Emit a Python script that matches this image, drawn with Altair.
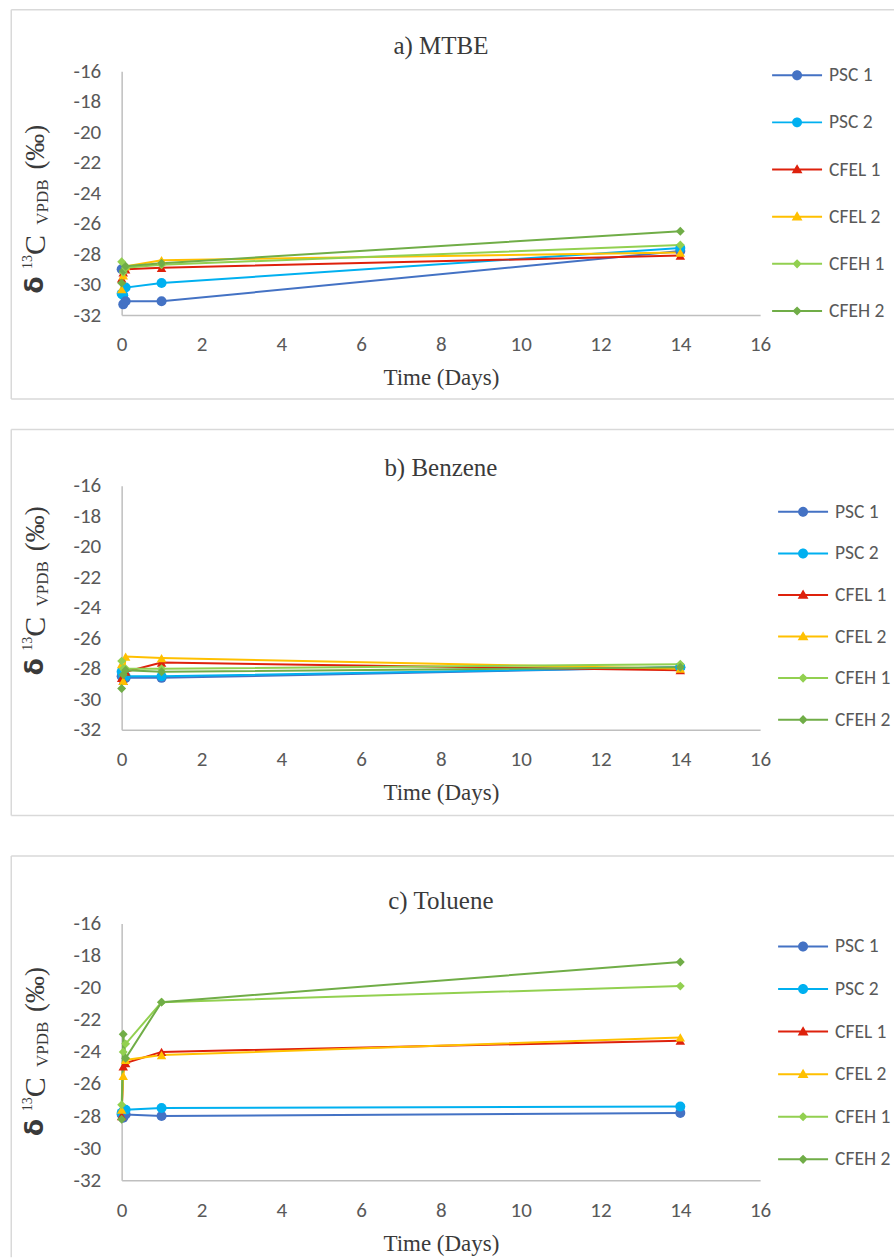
import altair as alt
import pandas as pd

# ---- data -----------------------------------------------------------------
SERIES = ["PSC 1", "PSC 2", "CFEL 1", "CFEL 2", "CFEH 1", "CFEH 2"]
COLORS = ["#4472C4", "#00B0F0", "#DE210C", "#FFC000", "#92D050", "#70AD47"]
DAYS = [0, 0.04, 0.1, 1, 14]

MTBE = {
    "PSC 1": [-29.0, -31.3, -31.1, -31.1, -27.8],
    "PSC 2": [-30.6, -30.7, -30.2, -29.9, -27.6],
    "CFEL 1": [-29.6, -29.2, -29.0, -28.9, -28.1],
    "CFEL 2": [-30.3, -29.4, -28.8, -28.4, -27.9],
    "CFEH 1": [-28.5, -29.2, -28.9, -28.7, -27.4],
    "CFEH 2": [-29.9, -29.1, -28.8, -28.6, -26.5],
}
BENZENE = {
    "PSC 1": [-28.5, -28.7, -28.6, -28.6, -27.9],
    "PSC 2": [-28.2, -28.6, -28.5, -28.5, -27.9],
    "CFEL 1": [-28.6, -28.8, -28.2, -27.6, -28.1],
    "CFEL 2": [-27.7, -28.8, -27.2, -27.3, -28.0],
    "CFEH 1": [-27.5, -28.0, -28.0, -28.0, -27.7],
    "CFEH 2": [-29.3, -28.4, -28.1, -28.2, -27.9],
}
TOLUENE = {
    "PSC 1": [-27.9, -28.1, -27.9, -28.0, -27.8],
    "PSC 2": [-27.8, -27.7, -27.6, -27.5, -27.4],
    "CFEL 1": [-28.0, -24.9, -24.7, -24.0, -23.3],
    "CFEL 2": [-27.6, -25.5, -24.5, -24.2, -23.1],
    "CFEH 1": [-27.3, -24.0, -23.5, -20.9, -19.9],
    "CFEH 2": [-28.2, -22.9, -24.4, -20.9, -18.4],
}

X_TICKS = [0, 2, 4, 6, 8, 10, 12, 14, 16]
Y_TICKS = [-16, -18, -20, -22, -24, -26, -28, -30, -32]

# ---- styling ----------------------------------------------------------------
SANS = "Carlito, Lato, sans-serif"
SERIF = "Liberation Serif, serif"
TEXT_GREY = "#595959"
DARK = "#3A3A3A"
FRAME = "#D9D9D9"
PLOT_W = 639

# legend glyphs: a short line with the series marker on it (units of 20 px)
LINE = "M-1.25,-0.05H1.25V0.05H-1.25Z"
CIRCLE = "M-0.25,0A0.25,0.25 0 1,1 0.25,0A0.25,0.25 0 1,1 -0.25,0Z"
TRIANGLE = "M0,-0.27L0.27,0.19L-0.27,0.19Z"
DIAMOND = "M0,-0.23L0.23,0L0,0.23L-0.23,0Z"
LEGEND_SHAPES = [LINE + CIRCLE, LINE + CIRCLE, LINE + TRIANGLE,
                 LINE + TRIANGLE, LINE + DIAMOND, LINE + DIAMOND]

ONE = pd.DataFrame({"k": [0]})


def tidy(values):
    rows = []
    for s in SERIES:
        for i, (d, v) in enumerate(zip(DAYS, values[s])):
            rows.append({"series": s, "day": d, "d13c": v, "i": i})
    return pd.DataFrame(rows)


def frame(top, bottom, closed, left=-110.5, right=773):
    rule = alt.Chart(ONE).mark_rule(color=FRAME, strokeWidth=1.5)
    parts = [
        rule.encode(x=alt.value(left), x2=alt.value(right), y=alt.value(top), y2=alt.value(top)),
        rule.encode(x=alt.value(left), x2=alt.value(left), y=alt.value(top), y2=alt.value(bottom)),
    ]
    if closed:
        parts.append(rule.encode(x=alt.value(left), x2=alt.value(right),
                                 y=alt.value(bottom), y2=alt.value(bottom)))
    return parts


def label(txt, x, y, size, font=SERIF, weight="normal", angle=0):
    return alt.Chart(ONE).mark_text(
        text=txt, angle=angle, align="center", baseline="middle",
        font=font, fontSize=size, fontWeight=weight, color=DARK,
    ).encode(x=alt.value(x), y=alt.value(y))


def y_title(mid):
    # δ 13C VPDB (‰), written bottom-to-top with super/subscripts
    return [
        label("δ", -87, mid + 72, 25, "DejaVu Sans", "bold", 270),
        label("13", -94, mid + 49, 14, angle=270),
        label("C", -86, mid + 32, 30, angle=270),
        label("VPDB", -79, mid - 11, 17, angle=270),
        label("(‰)", -86, mid - 66, 27, angle=270),
    ]


def panel(title, values, plot_h, lead, legend_x, legend_y, row_pad,
          frame_top, frame_bottom, closed, ytitle_mid, title_y):
    """lead = empty strip above the plotting area inside the panel group"""
    df = tidy(values)
    color_scale = alt.Scale(domain=SERIES, range=COLORS)
    legend = alt.Legend(
        title=None, orient="none", legendX=legend_x, legendY=legend_y + lead,
        symbolSize=1600, symbolOpacity=1, symbolStrokeWidth=0,
        rowPadding=row_pad, labelOffset=12, padding=0,
        labelFont=SANS, labelFontSize=19.5, labelColor=TEXT_GREY, labelLimit=200,
    )
    base = alt.Chart(df).encode(
        x=alt.X(
            "day:Q",
            scale=alt.Scale(domain=[0, 16], nice=False, zero=False),
            axis=alt.Axis(values=X_TICKS, title="Time (Days)", labelPadding=19,
                          titlePadding=12, labelFlush=False),
        ),
        y=alt.Y(
            "d13c:Q",
            scale=alt.Scale(domain=[-32, -16], nice=False, zero=False,
                            range=[plot_h + lead, lead]),
            axis=alt.Axis(values=Y_TICKS, title=None, labelPadding=21,
                          labelFlush=False, labelExpr="'' + datum.value"),
        ),
        order="i:Q",
    )
    key = base.mark_point(filled=True, opacity=0).encode(
        color=alt.Color("series:N", scale=color_scale, legend=legend),
        shape=alt.Shape("series:N", scale=alt.Scale(domain=SERIES, range=LEGEND_SHAPES), legend=legend),
    )
    col = alt.Color("series:N", scale=color_scale, legend=None)
    lines = base.mark_line(strokeWidth=2).encode(color=col)
    circles = base.transform_filter(
        alt.FieldOneOfPredicate(field="series", oneOf=SERIES[0:2])
    ).mark_point(shape="circle", filled=True, size=100, opacity=1).encode(color=col)
    triangles = base.transform_filter(
        alt.FieldOneOfPredicate(field="series", oneOf=SERIES[2:4])
    ).mark_point(shape="triangle-up", filled=True, size=90, opacity=1).encode(color=col)
    diamonds = base.transform_filter(
        alt.FieldOneOfPredicate(field="series", oneOf=SERIES[4:6])
    ).mark_point(shape="diamond", filled=True, size=80, opacity=1).encode(color=col)

    layers = (frame(frame_top + lead, frame_bottom + lead, closed)
              + [label(title, PLOT_W / 2, title_y + lead, 25)]
              + y_title(ytitle_mid + lead)
              + [key, lines, circles, triangles, diamonds])
    return alt.layer(*layers).properties(width=PLOT_W, height=plot_h + lead)


pa = panel("a) MTBE", MTBE, 244, 0, 656, -16, 17.2, -61.5, 328, True, 142, -25)
pb = panel("b) Benzene", BENZENE, 244, 0, 662, 6, 11.6, -56.5, 330, True, 109, -18)
pc = panel("c) Toluene", TOLUENE, 257, 23, 662, 3, 12.6, -67.5, 334, False, 132, -23)

chart = alt.vconcat(pa, pb, pc, spacing=171, bounds="flush").resolve_scale(
    color="independent", shape="independent"
).resolve_legend(color="independent", shape="independent").properties(
    padding={"left": 9.75, "top": 7.75, "right": 0, "bottom": 0},
    background="white",
).configure_view(stroke=None).configure_axis(
    domainColor="#BFBFBF", domainWidth=1.5, ticks=False, tickSize=0, grid=False,
    labelFont=SANS, labelFontSize=21, labelColor=TEXT_GREY,
    titleFont=SERIF, titleFontSize=23, titleFontWeight="normal", titleColor=DARK,
)

chart.save("out.html", embed_options={"renderer": "svg", "actions": False})
